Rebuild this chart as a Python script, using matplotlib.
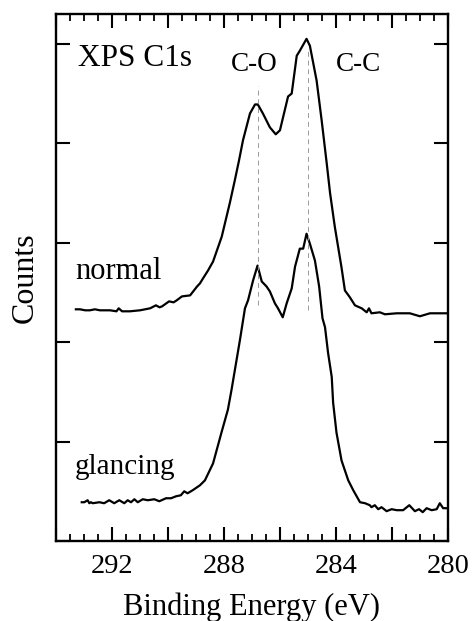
import matplotlib
matplotlib.use("Agg")
import matplotlib.pyplot as plt
from matplotlib.ticker import MultipleLocator, NullFormatter, FuncFormatter

# ---- data ----
normal_energy = [293.29, 293.14, 292.96, 292.79, 292.61, 292.43, 292.07, 291.84, 291.76, 291.64,
                 291.36, 291.00, 290.64, 290.43, 290.30, 290.21, 289.96, 289.80, 289.69, 289.50,
                 289.21, 288.96, 288.86, 288.75, 288.57, 288.39, 288.08, 287.79, 287.61, 287.46,
                 287.32, 287.07, 286.89, 286.79, 286.61, 286.36, 286.15, 286.00, 285.71, 285.58,
                 285.40, 285.29, 285.05, 284.93, 284.69, 284.51, 284.33, 284.21, 284.04, 283.80,
                 283.68, 283.50, 283.32, 283.08, 282.90, 282.82, 282.73, 282.43, 282.25, 281.83,
                 281.36, 281.00, 280.64, 280.40, 280.05]
normal_counts = [2.33, 2.33, 2.32, 2.32, 2.33, 2.32, 2.32, 2.31, 2.34, 2.31,
                 2.31, 2.32, 2.34, 2.37, 2.35, 2.36, 2.41, 2.40, 2.42, 2.46,
                 2.47, 2.56, 2.59, 2.64, 2.72, 2.81, 3.06, 3.40, 3.63, 3.83,
                 4.03, 4.30, 4.39, 4.39, 4.30, 4.16, 4.09, 4.13, 4.47, 4.50,
                 4.88, 4.93, 5.05, 4.98, 4.63, 4.23, 3.80, 3.50, 3.16, 2.75,
                 2.52, 2.45, 2.37, 2.34, 2.30, 2.34, 2.29, 2.30, 2.28, 2.29,
                 2.29, 2.26, 2.29, 2.29, 2.29]

glancing_energy = [293.08, 292.99, 292.87, 292.81, 292.75, 292.69, 292.45, 292.28, 292.10, 291.92,
                   291.74, 291.56, 291.44, 291.32, 291.20, 291.08, 290.90, 290.72, 290.49, 290.31,
                   290.07, 289.89, 289.71, 289.54, 289.42, 289.30, 289.12, 288.86, 288.68, 288.39,
                   288.08, 287.86, 287.73, 287.61, 287.43, 287.25, 287.14, 286.96, 286.80, 286.65,
                   286.48, 286.36, 286.18, 286.07, 285.90, 285.76, 285.58, 285.46, 285.29, 285.17,
                   285.05, 284.93, 284.75, 284.60, 284.48, 284.39, 284.28, 284.15, 284.10, 283.98,
                   283.80, 283.56, 283.38, 283.14, 282.96, 282.79, 282.73, 282.61, 282.49, 282.37,
                   282.19, 282.01, 281.83, 281.60, 281.38, 281.18, 281.03, 280.90, 280.76, 280.58,
                   280.40, 280.29, 280.17, 280.05]
glancing_counts = [0.39, 0.39, 0.41, 0.38, 0.39, 0.38, 0.39, 0.38, 0.41, 0.38,
                   0.41, 0.38, 0.41, 0.39, 0.42, 0.39, 0.42, 0.41, 0.42, 0.40,
                   0.43, 0.43, 0.45, 0.46, 0.50, 0.48, 0.51, 0.56, 0.61, 0.78,
                   1.10, 1.32, 1.52, 1.72, 2.02, 2.34, 2.42, 2.62, 2.77, 2.61,
                   2.56, 2.51, 2.39, 2.34, 2.25, 2.39, 2.54, 2.76, 2.94, 2.94,
                   3.09, 2.99, 2.82, 2.56, 2.24, 2.15, 1.89, 1.65, 1.39, 1.09,
                   0.81, 0.61, 0.51, 0.39, 0.38, 0.36, 0.34, 0.36, 0.32, 0.34,
                   0.30, 0.32, 0.31, 0.31, 0.36, 0.30, 0.32, 0.29, 0.33, 0.31,
                   0.32, 0.38, 0.33, 0.33]

peak_positions = [286.8, 285.0]
peak_line_top = [4.58, 4.95]
peak_line_bottom = [2.37, 2.32]
peak_labels = ["C-O", "C-C"]
xtick_values = [292, 288, 284, 280]

SERIF = ["Liberation Serif", "DejaVu Serif"]

fig = plt.figure(figsize=(4.77, 6.21), dpi=100)
ax = fig.add_axes([0.1174, 0.1288, 0.8216, 0.8487])

ax.plot(normal_energy, normal_counts, color="black", lw=1.6)
ax.plot(glancing_energy, glancing_counts, color="black", lw=1.6)
for x, yt, yb in zip(peak_positions, peak_line_top, peak_line_bottom):
    ax.plot([x, x], [yb, yt], color="#999999", lw=0.7, ls=(0, (5, 4)))

ax.set_xlim(294, 280)
ax.set_ylim(0, 5.3)

ax.xaxis.set_major_locator(MultipleLocator(2))
ax.xaxis.set_major_formatter(FuncFormatter(
    lambda v, p: f"{v:.0f}" if round(v) in xtick_values else ""))
ax.xaxis.set_minor_locator(MultipleLocator(0.5))
ax.yaxis.set_major_locator(MultipleLocator(1))
ax.yaxis.set_major_formatter(NullFormatter())

ax.tick_params(axis="both", which="major", direction="in", length=10, width=1.5,
               top=True, right=True, pad=9)
ax.tick_params(axis="x", which="minor", direction="in", length=5, width=1.3,
               top=True, bottom=True)
for lab in ax.get_xticklabels():
    lab.set_fontfamily(SERIF)
    lab.set_fontsize(20.5)
for s in ax.spines.values():
    s.set_linewidth(1.7)

ax.set_xlabel("Binding Energy (eV)", fontfamily=SERIF, fontsize=22, labelpad=10)
ax.set_ylabel("Counts", fontfamily=SERIF, fontsize=23, labelpad=3)

ax.text(293.21, 4.78, "XPS C1s", fontfamily=SERIF, fontsize=22.5, ha="left", va="baseline")
ax.text(286.91, 4.73, peak_labels[0], fontfamily=SERIF, fontsize=19.5, ha="center", va="baseline")
ax.text(283.18, 4.73, peak_labels[1], fontfamily=SERIF, fontsize=19.5, ha="center", va="baseline")
ax.text(293.32, 2.63, "normal", fontfamily=SERIF, fontsize=22, ha="left", va="baseline")
ax.text(293.32, 0.67, "glancing", fontfamily=SERIF, fontsize=21, ha="left", va="baseline")

fig.savefig("out.png", dpi=100)
